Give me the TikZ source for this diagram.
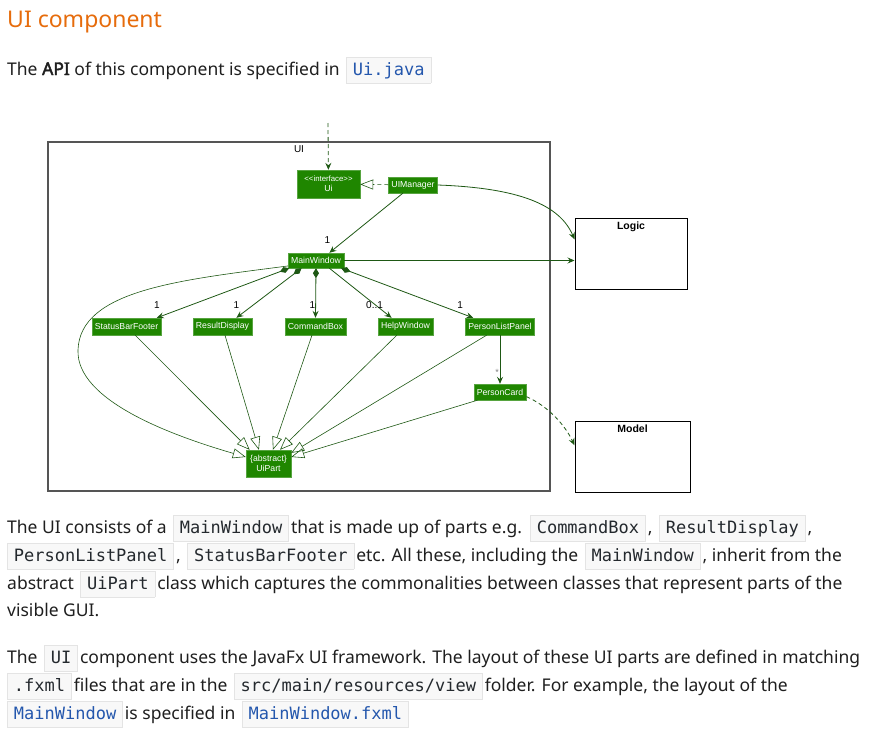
\documentclass[tikz,border=0pt]{standalone}
\usepackage{fontspec}
\setmainfont{Noto Sans}
\newfontfamily\boldsans{Noto Sans}[FakeBold=2.5]
\newfontfamily\umlfont{Liberation Sans}
\newfontfamily\codefont{DejaVu Sans Mono}
\usetikzlibrary{arrows.meta}

\definecolor{headorange}{RGB}{230,108,12}
\definecolor{bodyink}{RGB}{31,31,31}
\definecolor{codeink}{RGB}{36,41,46}
\definecolor{linkblue}{RGB}{36,87,173}
\definecolor{codebg}{RGB}{248,248,248}
\definecolor{codeline}{RGB}{228,228,228}
\definecolor{umlgreen}{RGB}{31,134,0}
\definecolor{umledge}{RGB}{30,88,20}
\definecolor{framegray}{RGB}{85,85,85}

\setlength\fboxrule{0.7pt}
\newcommand\codebox[2]{\kern2pt{\setlength\fboxsep{3.5pt}\fcolorbox{codeline}{codebg}{\kern2.5pt\codefont\fontsize{17}{20}\selectfont\color{#1}\rule[-4pt]{0pt}{18pt}#2\kern2.5pt}}\kern2pt}
\newcommand\code[1]{\codebox{codeink}{#1}}
\newcommand\link[1]{\codebox{linkblue}{#1}}

\begin{document}
\begin{tikzpicture}[x=1pt, y=-1pt,
    textline/.style={anchor=base west, inner sep=0pt, text=bodyink, font=\fontsize{17.5}{21}\selectfont},
    classbox/.style={fill=umlgreen, draw=umlgreen!75!white, text=white, font=\umlfont\fontsize{8.7}{10}\selectfont, inner xsep=3pt, inner ysep=0pt, minimum height=16pt, align=center},
    compbox/.style={draw=black, line width=1pt, minimum height=71pt, inner sep=0pt},
    complabel/.style={font=\umlfont\bfseries\fontsize{10.5}{12}\selectfont, inner sep=0pt, below=4pt},
    mult/.style={font=\umlfont\fontsize{10}{11}\selectfont, inner sep=0pt},
    navarrow/.style={draw=umledge, line width=0.8pt, -{Stealth[length=7pt,width=6pt,inset=2.5pt]}},
    composed/.style={navarrow, {Diamond[length=10pt,width=6pt]}-{Stealth[length=7pt,width=6pt,inset=2.5pt]}},
    extends/.style={draw=umledge, line width=0.6pt, -{Triangle[open,length=13pt,width=10pt]}},
    depends/.style={navarrow, dash pattern=on 4pt off 3pt},
    realizes/.style={extends, dash pattern=on 4pt off 3pt} ]
  \useasboundingbox (0,0) rectangle (880,731);

  % heading and first line
  \node[anchor=base west, inner sep=0pt, text=headorange, font=\fontsize{23}{27}\selectfont] (title) at (7,27) {UI component};
  \node[textline] (apiline) at (7,75) {The {\boldsans API} of this component is specified in \link{Ui.java}};

  % package frame
  \node[draw=framegray, line width=1.2pt, minimum width=502pt, minimum height=349pt, inner sep=0pt] (uiframe) at (299,316.5) {};
  \node[mult, below=4pt] (uilabel) at (uiframe.north) {UI};

  % other components
  \node[compbox, minimum width=112pt] (logic) at (631,253.5) {};
  \node[complabel] (logiclabel) at (logic.north) {Logic};
  \node[compbox, minimum width=115pt] (model) at (632.5,456.5) {};
  \node[complabel] (modellabel) at (model.north) {Model};

  % classes
  \coordinate (apientry) at (328,123);
  \node[classbox, minimum width=63pt, minimum height=28pt] (ui) at (328.5,184) {{\fontsize{7.8}{9}\selectfont <{}<interface>{}>}\\Ui};
  \node[classbox] (uimgr) at (413,185) {UIManager};
  \node[classbox, minimum height=15pt] (mainwin) at (316,260.5) {MainWindow};
  \node[classbox, minimum height=17pt] (statusbar) at (126.5,326.5) {StatusBarFooter};
  \node[classbox, minimum height=17pt] (resultdisp) at (222.5,326.5) {ResultDisplay};
  \node[classbox, minimum height=17pt] (cmdbox) at (315.5,326.5) {CommandBox};
  \node[classbox, minimum height=17pt] (helpwin) at (405.5,326.5) {HelpWindow};
  \node[classbox, minimum height=17pt] (plpanel) at (500,326.5) {PersonListPanel};
  \node[classbox] (pcard) at (500,392) {PersonCard};
  \node[classbox, minimum width=45pt, minimum height=27pt] (uipart) at (268.5,463.5) {\{abstract\}\\UiPart};

  % associations
  \draw[depends] (apientry) -- (ui);
  \draw[realizes] (uimgr) -- (ui);
  \draw[navarrow] (uimgr.219) -- (mainwin.30) node[mult, at end, above=9pt, xshift=-2pt] {1};
  \draw[navarrow] (uimgr.east) .. controls (520,188) and (560,205) .. (logic.166);
  \draw[navarrow] (mainwin.east) -- (mainwin.east -| logic.west);
  \draw[composed] (mainwin.196) -- (statusbar.16) node[mult, at end, above=9pt] {1};
  \draw[composed] (mainwin.208) -- (resultdisp.32) node[mult, at end, above=9pt] {1};
  \draw[composed] (mainwin.south) -- (cmdbox.north) node[mult, at end, above=9pt, xshift=-3pt] {1};
  \draw[navarrow] (mainwin.-30) -- (helpwin.148) node[mult, at end, above=9pt, xshift=-17pt] {0..1};
  \draw[composed] (mainwin.-17) -- (plpanel.162) node[mult, at end, above=9pt, xshift=-13pt] {1};
  \draw[navarrow] (plpanel.south) -- (pcard.north) node[mult, at end, above=8pt, xshift=-3pt, text=gray, font=\umlfont\fontsize{9}{10}\selectfont] {*};
  \draw[depends] (pcard.-10) .. controls (548,406) and (565,425) .. (model.169);

  % inheritance
  \draw[extends] (mainwin.191) .. controls (180,280) and (80,290) .. (78,350) .. controls (76,400) and (170,435) .. (uipart.164);
  \foreach \part/\tip in {statusbar.-45/144, resultdisp.-74/125, cmdbox.248/72, helpwin.225/50, plpanel.213/25, pcard.200/16}
    \draw[extends] (\part) -- (uipart.\tip);

  % text below
  \node[textline] (uiline1) at (7,533) {The UI consists of a \code{MainWindow} that is made up of parts e.g. \code{CommandBox}, \code{ResultDisplay},};
  \node[textline] (uiline2) at (5,561) {\code{PersonListPanel}, \code{StatusBarFooter} etc. All these, including the \code{MainWindow}, inherit from the};
  \node[textline] (uiline3) at (7,589) {abstract \code{UiPart} class which captures the commonalities between classes that represent parts of the};
  \node[textline] (uiline4) at (7,616) {visible GUI.};
  \node[textline] (fxline1) at (7,663) {The \code{UI} component uses the JavaFx UI framework. The layout of these UI parts are defined in matching};
  \node[textline] (fxline2) at (5,691) {\code{.fxml} files that are in the \code{src/main/resources/view} folder. For example, the layout of the};
  \node[textline] (fxline3) at (5,719) {\link{MainWindow} is specified in \link{MainWindow.fxml}};
\end{tikzpicture}
\end{document}
